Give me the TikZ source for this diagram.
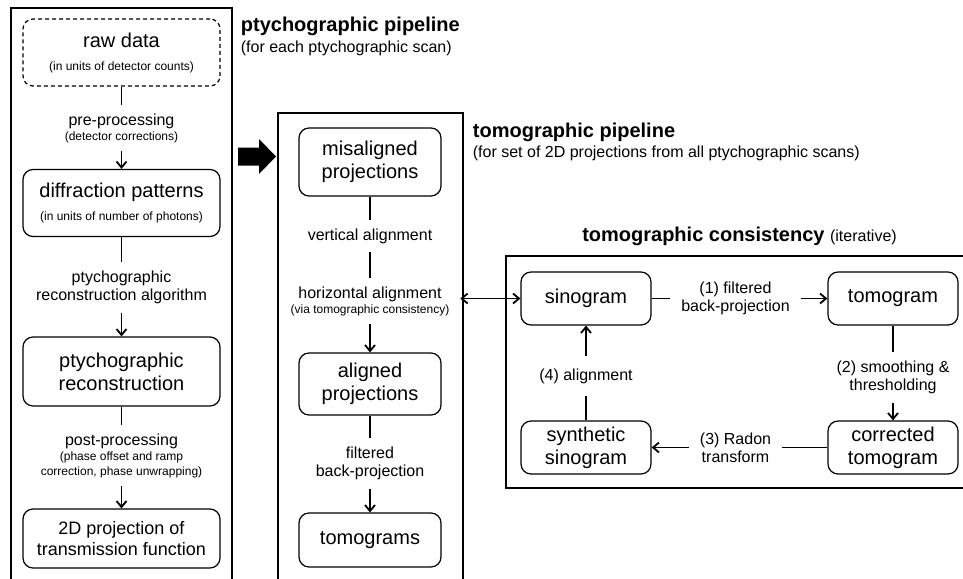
\documentclass[tikz,border=0pt]{standalone}
\usepackage{fontspec}
\setmainfont{Liberation Sans}
\usetikzlibrary{arrows.meta, positioning}
\newcommand\bigf{\fontsize{10}{11.5}\selectfont}
\newcommand\projf{\fontsize{9}{10.5}\selectfont}
\newcommand\midf{\fontsize{8}{9}\selectfont}
\newcommand\smlf{\fontsize{6}{7}\selectfont}

\begin{document}
\begin{tikzpicture}[
    x = 0.5pt, y = -0.5pt,
line width = 0.9pt,
  > = {Straight Barb[length=3pt,width=5pt]},
box/.style  = {draw, line width=0.6pt, rounded corners=5pt, align=center,
               font=\bigf, inner xsep=2pt, inner ysep=1pt},
lbox/.style = {box, minimum width=98.5pt},
mbox/.style = {box, minimum width=71pt},
rbox/.style = {box, minimum width=65pt, minimum height=26.5pt},
lbl/.style  = {font=\midf, align=center, inner xsep=5pt, inner ysep=4pt},
frm/.style  = {line width=0.8pt},
ttl/.style  = {font=\bfseries\bigf, inner sep=0pt, anchor=base west},
sub/.style  = {font=\midf, inner sep=0pt},
                    ]
\clip (0,0) rectangle (963,578);
% frames
\draw[frm] (11,8)    rectangle (232,600);
\draw[frm] (278,113) rectangle (463,600);
\draw[frm] (506,256) rectangle (975,488);
%
\node[ttl] (ptyT) at (240,32) {ptychographic pipeline};
\node[sub, below=10pt of ptyT.base west, anchor=base west] (ptyS)
    {(for each ptychographic scan)};
\node[ttl] (tomT) at (472,137) {tomographic pipeline};
\node[sub, below=10pt of tomT.base west, anchor=base west] (tomS)
    {(for set of 2D projections from all ptychographic scans)};
\node[font=\bigf, inner sep=0pt, anchor=base] (conT) at (739.5,241)
    {\textbf{tomographic consistency} {\midf (iterative)}};
% ptychographic pipeline
\node[lbox, minimum height=33.5pt, dashed, dash pattern=on 2pt off 1.5pt]
    (raw) at (121.5,52.5) {raw data\\{\smlf (in units of detector counts)}};
\node[lbox, minimum height=33.5pt] (diff) at (121.5,203)
    {diffraction patterns\\{\smlf (in units of number of photons)}};
\node[lbox, minimum height=34.5pt] (rec) at (121.5,371.5)
    {ptychographic\\reconstruction};
\node[lbox, minimum height=29.5pt, font=\projf] (proj) at (121.5,538.5)
    {2D projection of\\transmission function};
\node[lbl] (pre) at (121.5,128)
    {pre-processing\\[-1.5pt]{\smlf (detector corrections)}};
\node[lbl] (prec) at (121.5,287.5)
    {ptychographic\\reconstruction algorithm};
\node[lbl] (post) at (121.5,455.5)
    {post-processing\\[-1.5pt]{\smlf (phase offset and ramp}\\[-1.5pt]{\smlf correction, phase unwrapping)}};
% tomographic pipeline
\node[mbox, minimum height=34pt] (mis)   at (370,162) {misaligned\\projections};
\node[mbox, minimum height=31pt] (ali)   at (370,384) {aligned\\projections};
\node[mbox, minimum height=27pt] (tomos) at (370,540) {tomograms};
\node[lbl] (vert)  at (370,236) {vertical alignment};
\node[lbl] (horiz) at (370,301)
    {horizontal alignment\\[-1.5pt]{\smlf (via tomographic consistency)}};
\node[lbl] (filt)  at (370,463.5) {filtered\\back-projection};
% tomographic consistency
\node[rbox] (sino)  at (586,298.5) {sinogram};
\node[rbox] (tomo)  at (893,298.5) {tomogram};
\node[rbox] (corr)  at (893,447.5) {corrected\\tomogram};
\node[rbox] (synth) at (586,447.5) {synthetic\\sinogram};
\node[lbl] (fbp)   at (735.5,298.5) {(1) filtered\\back-projection};
\node[lbl] (smth)  at (893,377.5)   {(2) smoothing \&\\thresholding};
\node[lbl] (radon) at (735.5,447.5) {(3) Radon\\transform};
\node[lbl, inner ysep=6pt] (algn) at (586,376) {(4) alignment};
%
\fill (238,147.5) -- (259,147.5) -- (259,139) -- (276,156.5)
      -- (259,174) -- (259,165.5) -- (238,165.5) -- cycle;
%
\path   (raw)   edge        (pre)
        (pre)   edge[->]    (diff)
        (diff)  edge        (prec)
        (prec)  edge[->]    (rec)
        (rec)   edge        (post)
        (post)  edge[->]    (proj)
%
        (mis)   edge        (vert)
        (vert)  edge        (horiz)
        (horiz) edge[->]    (ali)
        (ali)   edge        (filt)
        (filt)  edge[->]    (tomos)
        (horiz.east |- sino.west) edge[<->] (sino.west)
%
        (sino)  edge        (fbp)
        (fbp)   edge[->]    (tomo)
        (tomo)  edge        (smth)
        (smth)  edge[->]    (corr)
        (corr)  edge        (radon)
        (radon) edge[->]    (synth)
        (synth) edge        (algn)
        (algn)  edge[->]    (sino);
\end{tikzpicture}
\end{document}
